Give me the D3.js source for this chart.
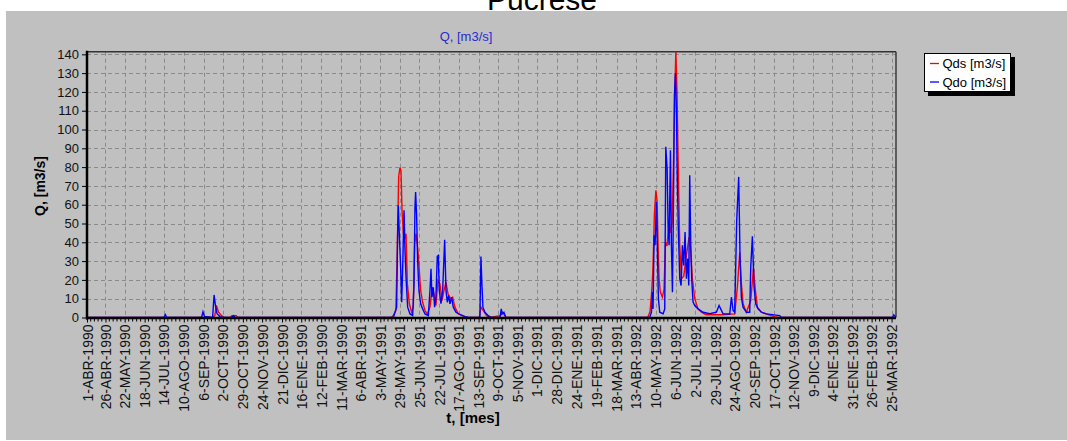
<!DOCTYPE html>
<html><head><meta charset="utf-8">
<script src="https://cdn.jsdelivr.net/npm/d3@7"></script>
<style>
html,body{margin:0;padding:0;background:#fff;}
svg{display:block;font-family:"Liberation Sans",Arial,sans-serif;}
</style></head>
<body>
<svg id="chart" width="1067" height="441"></svg>
<script>
// ---- data (days counted from 1-ABR-1990) ----
const tickLabels = ["1-ABR-1990","26-ABR-1990","22-MAY-1990","18-JUN-1990","14-JUL-1990","10-AGO-1990","6-SEP-1990","2-OCT-1990","29-OCT-1990","24-NOV-1990","21-DIC-1990","16-ENE-1990","12-FEB-1990","11-MAR-1990","6-ABR-1991","3-MAY-1991","29-MAY-1991","25-JUN-1991","22-JUL-1991","17-AGO-1991","13-SEP-1991","9-OCT-1991","5-NOV-1991","1-DIC-1991","28-DIC-1991","24-ENE-1991","19-FEB-1991","18-MAR-1991","13-ABR-1992","10-MAY-1992","6-JUN-1992","2-JUL-1992","29-JUL-1992","24-AGO-1992","20-SEP-1992","17-OCT-1992","12-NOV-1992","9-DIC-1992","4-ENE-1992","31-ENE-1992","26-FEB-1992","25-MAR-1992"];
const tickDays = [0,25,51,78,104,131,158,184,211,237,264,290,317,344,370,397,423,450,477,503,530,556,583,609,636,663,689,717,743,770,797,823,850,876,903,930,956,983,1009,1036,1062,1089];
const dayRange = [0,1095];
const yTicks = [0,10,20,30,40,50,60,70,80,90,100,110,120,130,140];
const seriesNames = ["Qds [m3/s]","Qdo [m3/s]"];

const qds = [[0,0],[170,0],[173,1],[175,6.5],[178,3],[182,1],[186,0],[194,0],[196,1],[202,1],[204,0],
[412,0],[414.6,1],[418,3.7],[420,35.7],[421.8,74.8],[423.6,79.8],[425,78],[426.4,57],[428.2,44.6],[430.4,42.8],[431.8,44.6],[433.6,17.9],[436.3,7.3],[439.4,2.8],[441.7,5.5],[443.5,39.2],[445.3,44.6],[447.5,37.5],[449.8,25],[451.6,14.4],[454.3,8.1],[457.5,3.7],[460.6,1.9],[464.2,5.5],[467.4,16.1],[469.6,12.6],[472.3,6.4],[475,19.7],[477.7,17.9],[480.5,9],[483.2,14.4],[485.9,18.8],[488.6,12.6],[492.2,9.9],[494.9,10.8],[498,5.5],[502.5,1.9],[509.3,0.7],[516,0],[531,0],[533.2,5.5],[536.4,3.7],[540.9,1],[545,0],[559.8,1],[562.5,2.8],[567,0],
[759,0],[762,3],[764,12],[765.8,24],[767,40],[768,55],[770,67.7],[771.6,62],[773,38],[774.3,20.6],[776,13.5],[778.8,10.8],[781,15],[783,40],[785,38],[788,52],[790,45],[792,50],[793.7,80],[795.5,118],[797,141.4],[798.7,118],[800.5,74],[802.3,38],[804.6,20.6],[807.7,22],[811.3,33],[814.9,42.8],[816.7,38],[819.4,20.6],[822.6,10],[827,4.6],[831.6,2.8],[838,1.5],[860,1.5],[876.7,1.9],[880.3,16.2],[883.5,34.5],[885.7,18],[888,7.3],[892.5,2.8],[898.4,9],[902,26],[904.7,14.4],[907.4,5.5],[912.8,2.8],[921.8,1.6],[930.8,0.5],[935.4,0],[1095,0]];

const qdo = [[0,0],[104,0],[106,1.6],[108,0],[155,0],[157,3],[159,0.5],[170,0],[172,12],[174,6],[176,2],[180,0.5],[185,0],[196,0],[198,1],[201,0],
[414.6,0],[419.1,5.5],[420.5,46.4],[421.4,59.7],[422.7,44.6],[424.5,26.8],[425.9,8.1],[427.3,26.8],[429.1,57],[430.4,35.7],[431.8,21.5],[434,5.5],[437.2,1.9],[440.8,1],[442.6,17.9],[443.9,58.8],[444.8,66.8],[446.2,53.5],[447.5,30.4],[449.3,14.4],[451.6,7.3],[454.3,4.6],[457.5,1.9],[462,1],[464.2,14.4],[465.6,25.9],[466.9,10.8],[468.7,16.1],[470.5,5.5],[472.3,10.8],[474.1,32.5],[475.5,33],[476.8,14.4],[479.1,7.3],[481.4,14.4],[484.1,41.4],[485.9,14.4],[487.7,8.1],[489.5,11.7],[491.3,7.3],[493.5,10.8],[495.8,5.5],[499.4,2.8],[504.8,1.6],[511.6,0.5],[516,0],[531.8,0],[533.2,32.5],[534.5,17.9],[535.9,5.5],[538.6,2.8],[543.1,1],[547.6,0],[558.9,0],[560.7,4.6],[562,1.9],[564.3,2.8],[567,0],
[761.7,0],[764,2.8],[765.3,13.5],[766.2,4.6],[767.6,43.7],[768.9,38.4],[770.7,61.5],[772.1,34.8],[773.4,10],[775.2,2.8],[779.8,2],[782,4.6],[783.4,90.8],[785.2,79.3],[786.5,49],[787.9,38.4],[789.7,89],[791,38.4],[792.4,13.5],[793.7,56.2],[795.1,118.4],[796.4,130],[797.8,109.5],[799.1,70.4],[800.5,45.5],[802.3,20.6],[804.1,17],[805.9,38.4],[807.7,27.7],[809.5,45.5],[811.3,20.6],[813.1,31.3],[814.5,17],[815.8,75.7],[817.2,38.4],[818.5,20.6],[820.3,8.2],[822.6,6.4],[827.1,4.6],[833.9,2.8],[842.9,2],[851.9,2.8],[855.5,6.4],[857.7,4.6],[860.9,2],[867.7,1.9],[870,1.9],[872.2,10.8],[874.5,3.7],[876.7,2.8],[879.4,51.7],[882.1,74.8],[883.9,32.2],[885.7,10.8],[888,5.5],[892.5,2.8],[897,2.8],[898.4,26.8],[900.6,43.2],[902.9,16.2],[905.1,7.3],[908.3,4.6],[912.8,2.8],[919.6,1.9],[937.6,1],[939.8,0],[1090,0],[1092,1.5],[1094,0.5],[1095,0]];

// ---- drawing ----
const svg = d3.select("#chart");
const L = 87, R = 896, T = 51.7, B = 317.5;

svg.append("text").attr("x",542).attr("y",10).attr("text-anchor","middle")
  .style("font-size","30px").attr("fill","#000").text("Pucrese");
svg.append("rect").attr("x",6).attr("y",11).attr("width",1061).attr("height",429).attr("fill","#c0c0c0");

const x = d3.scaleLinear().domain(dayRange).range([L,R]);
const ymax = d3.max(qds.concat(qdo), d=>d[1]);
const y = d3.scaleLinear().domain([0,ymax]).range([B,T]);

// subtitle
svg.append("text").attr("x",466).attr("y",41).attr("text-anchor","middle")
  .style("font-size","13px").attr("fill","#2a2ad0").text("Q, [m3/s]");

// grid
const grid = svg.append("g").attr("stroke","#8a8a8a").attr("stroke-width",1).attr("stroke-dasharray","4,3");
grid.selectAll("line.h").data(yTicks.filter(d=>d>0)).join("line")
  .attr("x1",L).attr("x2",R).attr("y1",d=>Math.round(y(d))+0.5).attr("y2",d=>Math.round(y(d))+0.5);
grid.selectAll("line.v").data(tickDays.filter(d=>d>0)).join("line")
  .attr("y1",T).attr("y2",B).attr("x1",d=>Math.round(x(d))+0.5).attr("x2",d=>Math.round(x(d))+0.5);

// frame top/right
svg.append("line").attr("x1",L).attr("x2",R).attr("y1",T).attr("y2",T).attr("stroke","#333").attr("stroke-width",1.6);
svg.append("line").attr("x1",R).attr("x2",R).attr("y1",T).attr("y2",B).attr("stroke","#333").attr("stroke-width",1.4);

// clip
svg.append("clipPath").attr("id","clip").append("rect").attr("x",L).attr("y",T-1).attr("width",R-L).attr("height",B-T+1.5);

const line = d3.line().x(d=>x(d[0])).y(d=>y(d[1]));
const plot = svg.append("g").attr("clip-path","url(#clip)");
plot.append("path").datum(qds).attr("d",line).attr("fill","none").attr("stroke","#ff0000").attr("stroke-width",1.4);
plot.append("path").datum(qdo).attr("d",line).attr("fill","none").attr("stroke","#0000ff").attr("stroke-width",1.4);

// y axis
const yAxis = svg.append("g").attr("transform",`translate(${L},0)`)
  .call(d3.axisLeft(y).tickValues(yTicks).tickSize(5).tickPadding(3));
yAxis.select(".domain").remove();
yAxis.selectAll("line").attr("stroke","#000");
yAxis.selectAll("text").style("font-size","13px").style("font-family","Liberation Sans, Arial, sans-serif").attr("fill","#111");

// x axis
const xAxis = svg.append("g").attr("transform",`translate(0,${B+1})`)
  .call(d3.axisBottom(x).tickValues(tickDays).tickSize(4).tickFormat((d,i)=>tickLabels[i]));
xAxis.select(".domain").remove();
xAxis.selectAll("line").attr("stroke","#000");
xAxis.selectAll("text").attr("transform","rotate(-90)").attr("x",-6).attr("y",0).attr("dy","0.36em")
  .style("text-anchor","end").style("font-size","14px").style("font-family","Liberation Sans, Arial, sans-serif").attr("fill","#111");

// minor ticks
const minor = [];
for (let i=0;i<tickDays.length-1;i++){ for(let k=1;k<5;k++) minor.push(tickDays[i]+(tickDays[i+1]-tickDays[i])*k/5); }
svg.append("g").selectAll("line").data(minor).join("line")
  .attr("x1",d=>x(d)).attr("x2",d=>x(d)).attr("y1",B+1).attr("y2",B+4).attr("stroke","#000").attr("stroke-width",1);

// thick axes
svg.append("line").attr("x1",L).attr("x2",L).attr("y1",T-1).attr("y2",B+2).attr("stroke","#000").attr("stroke-width",2.5);
svg.append("line").attr("x1",L-1).attr("x2",R).attr("y1",B+0.5).attr("y2",B+0.5).attr("stroke","#000").attr("stroke-width",2.5);

// axis titles
svg.append("text").attr("transform","translate(45,186) rotate(-90)").attr("text-anchor","middle")
  .style("font-size","14px").style("font-weight","bold").text("Q, [m3/s]");
svg.append("text").attr("x",473).attr("y",423).attr("text-anchor","middle")
  .style("font-size","15px").style("font-weight","bold").text("t, [mes]");

// legend
const lg = svg.append("g");
lg.append("rect").attr("x",928).attr("y",57).attr("width",87).attr("height",39).attr("fill","#000");
lg.append("rect").attr("x",924.5).attr("y",53.5).attr("width",86).attr("height",38).attr("fill","#fff").attr("stroke","#000");
const colors = ["#ff0000","#0000ff"];
seriesNames.forEach((n,i)=>{
  const yy = 63.5 + i*18.5;
  lg.append("line").attr("x1",930).attr("x2",939).attr("y1",yy).attr("y2",yy).attr("stroke",colors[i]).attr("stroke-width",1.3);
  lg.append("text").attr("x",942.5).attr("y",yy).attr("dy","0.36em").style("font-size","13px").attr("fill","#000").text(n);
});
</script>
</body></html>
